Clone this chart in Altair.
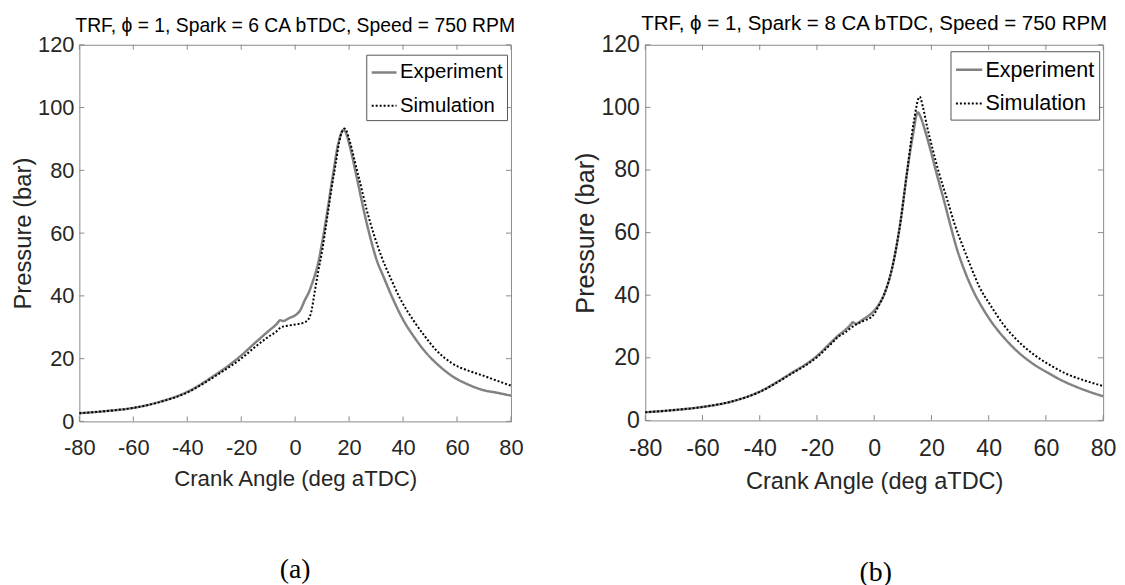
import altair as alt
import pandas as pd

# ---------------- data ----------------
SERIES = ["Experiment", "Simulation"]
TICKS_X = [-80, -60, -40, -20, 0, 20, 40, 60, 80]
TICKS_Y = [0, 20, 40, 60, 80, 100, 120]
TITLES = ["TRF, \u03d5 = 1, Spark = 6 CA bTDC, Speed = 750 RPM",
          "TRF, \u03d5 = 1, Spark = 8 CA bTDC, Speed = 750 RPM"]
CAPTIONS = ["(a)", "(b)"]

# panel (a): spark 6 CA bTDC
A_EXP_CA = [-80, -70, -60, -50, -40, -30, -25, -20, -15, -10, -7, -5.5, -4.5, -2, 0, 2, 3.5,
            5, 6.5, 8.4, 10, 12.1, 14, 16.1, 17.9, 19, 20, 21, 22.4, 24, 25.5, 27.9, 30,
            32.9, 36, 40.2, 44, 48.8, 53, 58.6, 64, 69.6, 75, 80]
A_EXP_P = [2.6, 3.3, 4.3, 6.3, 9.4, 14.6, 17.6, 21.0, 24.9, 28.7, 30.9, 32.2, 32.0, 33.0, 33.8,
           35.6, 38.5, 41.0, 44.5, 50.0, 57.0, 67.9, 78.5, 89.0, 92.9, 91.6, 88.5, 85.0,
           79.5, 73.0, 67.0, 58.4, 52.0, 45.8, 39.5, 32.1, 27.0, 21.6, 18.0, 14.2, 11.8,
           10.0, 9.1, 8.2]
A_SIM_CA = [-80, -70, -60, -50, -40, -30, -25, -20, -15, -10, -7, -5.2, -2, 1, 3, 4.7, 6,
            7.1, 8.5, 10.2, 11.8, 13.3, 15, 16.3, 17.5, 18.2, 19, 20, 21, 22.5, 23.7, 26.5,
            29.2, 32, 35.3, 39, 43.9, 48, 52.4, 58, 64.7, 70, 75, 80]
A_SIM_P = [2.6, 3.3, 4.3, 6.2, 9.2, 14.2, 17.0, 20.0, 23.6, 26.9, 28.6, 30.0, 30.6, 31.0,
           31.4, 32.3, 35.0, 40.5, 47.5, 55.3, 64.5, 73.2, 82.0, 89.0, 92.5, 93.3, 92.6,
           90.0, 86.8, 81.5, 77.4, 67.5, 59.5, 52.5, 45.8, 39.0, 32.1, 27.2, 22.6, 18.6,
           16.0, 14.5, 12.9, 11.4]

# panel (b): spark 8 CA bTDC
B_EXP_CA = [-80, -70, -60, -50, -40, -30, -20, -15, -12.7, -10, -8, -7.5, -6.5, -4, -1.2, 1,
            3.5, 6.3, 9.2, 11.5, 13.5, 15.2, 16.5, 17.8, 19.6, 22, 24.2, 26.5, 28.8, 31.5,
            34.6, 38, 41.5, 45.5, 49.6, 55, 61.1, 65.5, 70.4, 75, 80]
B_EXP_P = [2.6, 3.3, 4.3, 6.0, 9.2, 14.5, 20.6, 25.0, 27.0, 29.0, 30.8, 31.4, 30.9, 32.2,
           34.0, 36.2, 40.3, 48.8, 63.5, 79.4, 91.0, 98.4, 96.3, 92.5, 86.7, 78.2, 70.9,
           62.8, 55.1, 48.0, 41.4, 35.7, 30.8, 26.3, 22.4, 18.4, 15.0, 12.8, 10.8, 9.2, 7.7]
B_SIM_CA = [-80, -70, -60, -50, -40, -30, -20, -15, -12.7, -10, -8.1, -3.5, -1, 0, 1.5, 3.5,
            6.3, 9.2, 11.5, 13.8, 15.9, 17, 18.5, 20.2, 22.5, 25.4, 28, 31.2, 34, 36.9, 40.5,
            45, 50, 55.4, 61, 66.9, 73, 80]
B_SIM_P = [2.6, 3.3, 4.3, 6.0, 9.1, 14.3, 20.2, 24.5, 26.6, 28.2, 29.6, 31.9, 33.0, 34.0,
           36.5, 40.3, 48.8, 63.5, 79.4, 95.2, 103.4, 100.2, 93.8, 87.5, 79.5, 70.9, 63.0,
           55.1, 48.6, 42.4, 37.0, 30.8, 25.6, 21.3, 17.9, 15.0, 12.9, 11.0]

# ---------------- styling ----------------
FONT = "Liberation Sans"
TXT = "#262626"
BOX = "#8a8a8a"
HYPHEN_LABEL = "datum.value < 0 ? '-' + abs(datum.value) : '' + datum.value"


def make_df(ca_e, p_e, ca_s, p_s):
    return pd.concat([
        pd.DataFrame({"ca": ca_e, "p": p_e, "series": SERIES[0]}),
        pd.DataFrame({"ca": ca_s, "p": p_s, "series": SERIES[1]}),
    ], ignore_index=True)


def panel(df, title, caption, w, h, k, leg_x, leg_y, row_pad, cap_dx):
    xs = alt.Scale(domain=[-80, 80], nice=False, zero=False)
    ys = alt.Scale(domain=[0, 120], nice=False, zero=False)
    leg = alt.Legend(
        title=None, orient="none", legendX=leg_x, legendY=leg_y,
        symbolType="stroke", symbolSize=(25 * k) ** 2,
        labelFontSize=20.5 * k, labelFont=FONT, labelColor="#000000",
        strokeColor="#555555", fillColor="white", padding=4 * k,
        rowPadding=row_pad, labelOffset=2, labelLimit=400,
    )
    lines = alt.Chart(df).mark_line(interpolate="monotone", strokeCap="butt").encode(
        x=alt.X("ca:Q", scale=xs, axis=alt.Axis(
            values=TICKS_X, title="Crank Angle (deg aTDC)", ticks=False, domain=False,
            grid=False, labelFontSize=22 * k, titleFontSize=22.4 * k,
            labelPadding=16 * k, titlePadding=10 * k, labelFlush=False,
            labelOverlap=False, labelColor=TXT, titleColor=TXT, labelFont=FONT,
            titleFont=FONT, titleFontWeight="normal", labelExpr=HYPHEN_LABEL)),
        y=alt.Y("p:Q", scale=ys, axis=alt.Axis(
            values=TICKS_Y, title="Pressure (bar)", ticks=False, domain=False,
            grid=False, labelFontSize=22 * k, titleFontSize=24 * k,
            labelPadding=5.5 * k, titlePadding=2 * k, labelFlush=False,
            labelOverlap=False, labelColor=TXT, titleColor=TXT, labelFont=FONT,
            titleFont=FONT, titleFontWeight="normal")),
        color=alt.Color("series:N", scale=alt.Scale(domain=SERIES, range=["#828282", "#000000"]), legend=leg),
        strokeDash=alt.StrokeDash("series:N", scale=alt.Scale(domain=SERIES, range=[[1, 0], [2, 2]]), legend=leg),
        strokeWidth=alt.StrokeWidth("series:N", scale=alt.Scale(domain=SERIES, range=[2.5, 2.0]), legend=leg),
    )
    tx = alt.Chart(pd.DataFrame({"t": TICKS_X})).mark_rule(color=BOX, strokeWidth=1)
    ty = alt.Chart(pd.DataFrame({"t": TICKS_Y})).mark_rule(color=BOX, strokeWidth=1)
    L = 5 * k
    xb = tx.encode(x=alt.X("t:Q", scale=xs), y=alt.value(h), y2=alt.value(h - L))
    xt = tx.encode(x=alt.X("t:Q", scale=xs), y=alt.value(0), y2=alt.value(L))
    yl = ty.encode(y=alt.Y("t:Q", scale=ys), x=alt.value(0), x2=alt.value(L))
    yr = ty.encode(y=alt.Y("t:Q", scale=ys), x=alt.value(w - L), x2=alt.value(w))
    layer = alt.layer(lines, xb, xt, yl, yr).properties(
        width=w, height=h,
        title=alt.TitleParams(title, font=FONT, fontSize=19.5 * k, fontWeight="normal",
                              color="#000000", anchor="middle", frame="group",
                              baseline="alphabetic", offset=-17.5),
    )
    return alt.vconcat(layer).properties(
        title=alt.TitleParams(caption, orient="bottom", font="Liberation Serif",
                              fontSize=28, fontWeight="normal", color="#000000",
                              anchor="middle", dx=cap_dx, offset=88,
                              baseline="alphabetic"))


df_a = make_df(A_EXP_CA, A_EXP_P, A_SIM_CA, A_SIM_P)
df_b = make_df(B_EXP_CA, B_EXP_P, B_SIM_CA, B_SIM_P)

pa = panel(df_a, TITLES[0], CAPTIONS[0], 435.5, 380, 1.0, 289.5, 10, 9, 28)
pb = panel(df_b, TITLES[1], CAPTIONS[1], 462, 379, 1.06, 308, 6.5, 7, 31)

chart = alt.hconcat(pa, pb, spacing=49).resolve_legend(
    color="independent", strokeDash="independent", strokeWidth="independent"
).properties(
    padding={"left": 3, "top": 1.5, "right": 0, "bottom": 0}
).configure_view(stroke=BOX, strokeWidth=1)

chart.save("out.html", embed_options={"renderer": "svg", "actions": False})
